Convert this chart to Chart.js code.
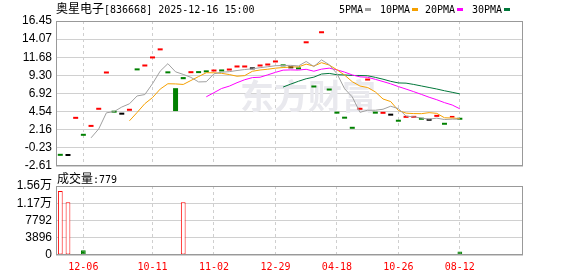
<!DOCTYPE html>
<html>
<head>
<meta charset="utf-8">
<script src="https://cdn.jsdelivr.net/npm/chart.js@4"></script>
<style>
  body { margin: 0; background: #fff; width: 578px; height: 276px; position: relative; overflow: hidden; }
  canvas { position: absolute; left: 0; }
  #priceChart { top: 0; }
  #volChart { top: 170px; }
  .txt { position: absolute; color: #000; white-space: nowrap; line-height: 14px; }
  .mono { font-family: "DejaVu Sans Mono", monospace; font-size: 10px; }
  .cjk { font-family: "Noto Sans CJK SC", sans-serif; font-size: 12px; }
  .box { display: inline-block; width: 6px; height: 3px; margin-left: 2px; vertical-align: middle; }
</style>
</head>
<body>
<canvas id="priceChart" width="578" height="170"></canvas>
<canvas id="volChart" width="578" height="106"></canvas>
<div class="txt" style="left:56px;top:1px"><span class="cjk">奥星电子</span><span class="mono">[836668] 2025-12-16 15:00</span></div>
<div id="legend"></div>
<div class="txt" style="left:57px;top:171px"><span class="cjk">成交量</span><span class="mono">:779</span></div>
<script>
// x axis ticks (index of the day that gets a label)
const tickIdx = [3, 12, 20, 28, 36, 44, 52];
const tickLabels = ["12-06", "10-11", "11-02", "12-29", "04-18", "10-26", "08-12"];

// price axis
const priceTicks = ["16.45", "14.07", "11.68", "9.30", "6.92", "4.54", "2.16", "-0.23", "-2.61"];

// volume axis
const volTicks = [0, 3896, 7792, 11688, 15584];
const volTickLabels = ["0", "3896", "7792", "1.17万", "1.56万"];

// daily open / close
const opens = [-1.01, -1.03, 3.59, 1.38, 2.53, 4.78, 9.55, 4.42, 4.40, 4.65,
  9.98, 10.47, 11.53, 12.59, 9.59, 7.62, 9.08, 9.59, 9.62, 9.72,
  9.81, 9.85, 9.94, 10.34, 10.34, 10.36, 10.47, 10.60, 11.00, 10.51,
  10.49, 10.11, 13.52, 7.73, 14.84, 7.33, 4.29, 3.63, 2.30, 4.78,
  8.62, 4.29, 4.25, 4.27, 3.23, 3.72, 3.72, 3.49, 3.60, 3.85,
  2.83, 3.74, 3.49];
const closes = [-1.03, -1.03, 3.61, 1.36, 2.55, 4.80, 9.57, 4.40, 4.40, 4.67,
  9.96, 10.49, 11.55, 12.61, 9.57, 4.61, 8.80, 9.61, 9.60, 9.70,
  9.83, 9.82, 9.96, 10.36, 10.36, 10.36, 10.49, 10.62, 11.02, 10.49,
  10.49, 10.09, 13.54, 7.71, 14.86, 7.31, 4.27, 3.61, 2.28, 4.80,
  8.64, 4.27, 4.27, 4.27, 3.21, 3.74, 3.74, 3.47, 3.60, 3.87,
  2.81, 4.01, 3.47];

// moving averages
const ma5 = [null, null, null, null, 1.09, 2.26, 4.38, 4.54, 5.14, 5.57,
  6.60, 6.78, 8.21, 9.86, 10.84, 9.77, 9.43, 9.04, 8.44, 8.47,
  9.51, 9.72, 9.79, 9.94, 10.07, 10.17, 10.31, 10.44, 10.57, 10.60,
  10.62, 10.54, 11.13, 10.46, 11.34, 10.70, 9.54, 7.55, 6.47, 4.45,
  4.72, 4.72, 4.85, 5.25, 4.93, 3.95, 3.85, 3.69, 3.55, 3.68,
  3.50, 3.55, 3.55];
const ma10 = [null, null, null, null, null, null, null, null, null, 3.33,
  4.43, 5.58, 6.38, 7.50, 8.20, 8.18, 8.11, 8.63, 9.15, 9.65,
  9.64, 9.57, 9.41, 9.19, 9.27, 9.84, 10.01, 10.11, 10.25, 10.33,
  10.40, 10.42, 10.78, 10.52, 10.97, 10.66, 10.04, 9.34, 8.47, 7.90,
  7.71, 7.13, 6.20, 5.86, 4.69, 4.34, 4.28, 4.27, 4.40, 4.31,
  3.73, 3.70, 3.62];
const ma20 = [null, null, null, null, null, null, null, null, null, null,
  null, null, null, null, null, null, null, null, null, 6.49,
  7.03, 7.58, 7.89, 8.34, 8.73, 9.01, 9.06, 9.37, 9.70, 9.99,
  10.02, 10.00, 10.10, 9.85, 10.12, 10.25, 10.03, 9.73, 9.36, 9.11,
  9.05, 8.78, 8.49, 8.19, 7.83, 7.50, 7.16, 6.80, 6.43, 6.10,
  5.72, 5.41, 4.91];
const ma30 = [null, null, null, null, null, null, null, null, null, null,
  null, null, null, null, null, null, null, null, null, null,
  null, null, null, null, null, null, null, null, null, 7.77,
  8.16, 8.53, 8.86, 9.07, 9.48, 9.56, 9.39, 9.36, 9.29, 9.29,
  9.25, 9.04, 8.80, 8.52, 8.31, 8.28, 8.11, 7.91, 7.71, 7.51,
  7.28, 7.08, 6.87];

// volume (shares)
const volumes = [14450, 11900, 250, 1070, 250, 250, 250, 250, 250, 250,
  250, 250, 250, 250, 250, 250, 11900, 250, 250, 250,
  250, 250, 250, 250, 250, 250, 250, 250, 250, 250,
  250, 250, 250, 250, 250, 250, 250, 250, 250, 250,
  250, 250, 250, 250, 250, 250, 250, 250, 250, 250,
  250, 250, 779];

const maNames = ["5PMA", "10PMA", "20PMA", "30PMA"];
const maColors = ["#a0a0a0", "#f5a000", "#ff00ff", "#00773a"];
const RED = "#ff0000", GREEN = "#008000";

// legend (top right)
const legendX = [339, 380, 425, 472];
const legend = document.getElementById("legend");
maNames.forEach((n, i) => {
  const d = document.createElement("div");
  d.className = "txt";
  d.style.left = legendX[i] + "px";
  d.style.top = "1px";
  d.innerHTML = '<span class="mono">' + n + '</span><span class="box" style="background:' + maColors[i] + '"></span>';
  legend.appendChild(d);
});

// candle colours
const candleColors = opens.map((o, i) => closes[i] > o ? RED : (closes[i] < o ? GREEN : "#000"));
const candleHollow = opens.map((o, i) => closes[i] - o > 0.1);
const volUp = closes.map((c, i) => i === 0 || c >= closes[i - 1]);

// draws the gray frame round the plot
const framePlugin = {
  id: "frame",
  afterDatasetsDraw(chart) {
    const { ctx, chartArea: a } = chart;
    ctx.save();
    ctx.strokeStyle = "#999";
    ctx.lineWidth = 1;
    ctx.strokeRect(a.left + 0.5, a.top + 0.5, a.right - a.left - 1, a.bottom - a.top - 1);
    ctx.restore();
  }
};

const watermark = {
  id: "watermark",
  beforeDatasetsDraw(chart) {
    const ctx = chart.ctx;
    ctx.save();
    ctx.fillStyle = "#e9e9ee";
    ctx.font = "bold 34px 'Noto Sans CJK SC'";
    ctx.textBaseline = "middle";
    ctx.fillText("东方财富", 240, 96);
    ctx.restore();
  }
};

const xScale = (showLabels) => ({
  type: "linear",
  min: -0.56,
  max: 60.22,
  offset: false,
  afterBuildTicks: s => { s.ticks = tickIdx.map(v => ({ value: v })); },
  ticks: {
    display: showLabels,
    autoSkip: false,
    maxRotation: 0,
    color: RED,
    padding: 6,
    font: { family: "DejaVu Sans Mono", size: 10 },
    callback: (v, i) => tickLabels[i]
  },
  grid: { color: "#cfcfcf", drawTicks: false, offset: false },
  border: { display: false, dash: [3, 3] },
  afterFit: s => {
    s.height = showLabels ? 21 : 0;
    s.paddingLeft = 0; s.paddingRight = 0;
  }
});

const yFit = s => {
  s.width = 56;
  s.paddingTop = 0;
  s.paddingBottom = 0;
};

function lineSet(arr, color) {
  return {
    type: "line",
    data: arr.map((v, i) => ({ x: i, y: v })),
    borderColor: color,
    borderWidth: 1,
    pointRadius: 0,
    tension: 0,
    spanGaps: false
  };
}

// PRICE CHART
new Chart(document.getElementById("priceChart"), {
  type: "bar",
  data: {
    datasets: [
      lineSet(ma5, maColors[0]),
      lineSet(ma10, maColors[1]),
      lineSet(ma20, maColors[2]),
      lineSet(ma30, maColors[3]),
      {
        type: "bar",
        data: opens.map((o, i) => ({ x: i, y: [o, closes[i]] })),
        backgroundColor: candleColors.map((c, i) => candleHollow[i] ? "#fff" : c),
        borderColor: candleColors,
        borderWidth: candleHollow.map(h => h ? 1 : 0),
        borderSkipped: false,
        minBarLength: 2,
        barPercentage: 0.65,
        categoryPercentage: 1
      }
    ]
  },
  options: {
    responsive: false,
    animation: false,
    devicePixelRatio: 1,
    layout: { padding: { left: 0, right: 55, top: 21, bottom: 4 } },
    plugins: { legend: { display: false }, tooltip: { enabled: false } },
    scales: {
      x: xScale(false),
      y: {
        min: -2.61,
        max: 16.45,
        afterBuildTicks: s => { s.ticks = priceTicks.map(t => ({ value: parseFloat(t) })); },
        afterFit: yFit,
        ticks: {
          color: "#000",
          padding: 4,
          autoSkip: false,
          font: { family: "Liberation Sans", size: 12 },
          callback: (v, i) => priceTicks[i]
        },
        grid: { color: "#d0d0d0", drawTicks: false },
        border: { display: false }
      }
    }
  },
  plugins: [watermark, framePlugin]
});

// VOLUME CHART
new Chart(document.getElementById("volChart"), {
  type: "bar",
  data: {
    datasets: [{
      data: volumes.map((v, i) => ({ x: i, y: v })),
      backgroundColor: volUp.map(u => u ? "#fff" : GREEN),
      borderColor: volUp.map(u => u ? RED : GREEN),
      borderWidth: 1,
      borderSkipped: false,
      barPercentage: 0.62,
      categoryPercentage: 1
    }]
  },
  options: {
    responsive: false,
    animation: false,
    devicePixelRatio: 1,
    layout: { padding: { left: 0, right: 55, top: 16, bottom: 0 } },
    plugins: { legend: { display: false }, tooltip: { enabled: false } },
    scales: {
      x: xScale(true),
      y: {
        min: 0,
        max: 15584,
        afterBuildTicks: s => { s.ticks = volTicks.map(v => ({ value: v })); },
        afterFit: yFit,
        ticks: {
          color: "#000",
          padding: 4,
          autoSkip: false,
          font: { family: "'Liberation Sans', 'Noto Sans CJK SC'", size: 12 },
          callback: (v, i) => volTickLabels[i]
        },
        grid: { color: "#d0d0d0", drawTicks: false },
        border: { display: false }
      }
    }
  },
  plugins: [framePlugin]
});
</script>
</body>
</html>
